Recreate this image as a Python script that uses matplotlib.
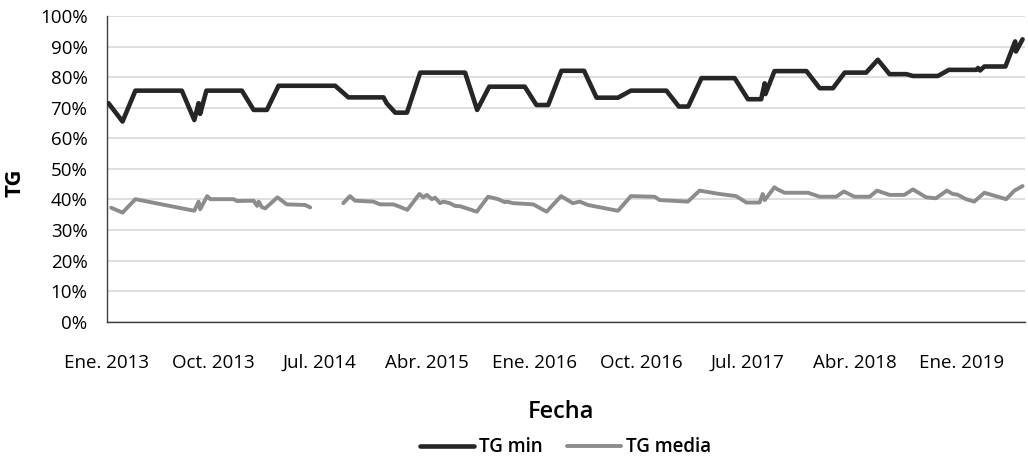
import numpy as np
import matplotlib
matplotlib.use("Agg")
import matplotlib.pyplot as plt

plt.rcParams['font.family'] = ['Open Sans', 'DejaVu Sans']

# TG min series (date, fraction)
min_dates = ['2013-01-05', '2013-02-10', '2013-03-15', '2013-07-12', '2013-08-13',
             '2013-08-24', '2013-08-28', '2013-09-13', '2013-12-13', '2014-01-12',
             '2014-02-15', '2014-03-17', '2014-08-09', '2014-09-12', '2014-12-11',
             '2014-12-19', '2015-01-10', '2015-02-09', '2015-03-15', '2015-07-08',
             '2015-08-08', '2015-09-08', '2015-12-08', '2016-01-07', '2016-02-06',
             '2016-03-11', '2016-05-08', '2016-06-09', '2016-08-03', '2016-09-05',
             '2016-12-05', '2017-01-06', '2017-01-30', '2017-03-05', '2017-05-29',
             '2017-07-02', '2017-08-05', '2017-08-14', '2017-08-16', '2017-09-08',
             '2017-11-29', '2018-01-02', '2018-02-05', '2018-03-07', '2018-05-01',
             '2018-05-31', '2018-06-30', '2018-08-12', '2018-08-29', '2018-11-01',
             '2018-11-29', '2019-02-07', '2019-02-12', '2019-02-17', '2019-02-28',
             '2019-04-23', '2019-05-18', '2019-05-20', '2019-06-06']
min_vals = [0.715, 0.655, 0.756, 0.756, 0.660,
            0.715, 0.680, 0.756, 0.756, 0.693,
            0.693, 0.772, 0.772, 0.734, 0.734,
            0.715, 0.684, 0.684, 0.815, 0.815,
            0.693, 0.769, 0.769, 0.709, 0.709,
            0.821, 0.821, 0.733, 0.733, 0.756,
            0.756, 0.704, 0.704, 0.797, 0.797,
            0.728, 0.728, 0.780, 0.745, 0.820,
            0.820, 0.764, 0.764, 0.815, 0.815,
            0.857, 0.810, 0.810, 0.804, 0.804,
            0.824, 0.824, 0.830, 0.822, 0.835,
            0.835, 0.917, 0.884, 0.924]

# TG media series (NaN marks the gap)
media_dates = ['2013-01-12', '2013-02-10', '2013-03-15', '2013-08-13', '2013-08-24',
               '2013-08-28', '2013-09-15', '2013-09-23', '2013-11-22', '2013-11-30',
               '2014-01-12', '2014-01-21', '2014-01-25', '2014-02-02', '2014-02-11',
               '2014-03-14', '2014-04-07', '2014-05-24', '2014-06-06', '2014-07-15',
               '2014-08-30', '2014-09-16', '2014-09-29', '2014-11-15', '2014-12-02',
               '2015-01-05', '2015-01-22', '2015-02-10', '2015-03-13', '2015-03-23',
               '2015-04-01', '2015-04-14', '2015-04-22', '2015-05-05', '2015-05-13',
               '2015-05-30', '2015-06-12', '2015-06-25', '2015-07-12', '2015-08-07',
               '2015-09-05', '2015-10-01', '2015-10-18', '2015-10-23', '2015-11-08',
               '2015-12-30', '2016-02-02', '2016-03-10', '2016-04-09', '2016-04-27',
               '2016-05-18', '2016-08-03', '2016-09-05', '2016-11-05', '2016-11-18',
               '2017-01-29', '2017-02-28', '2017-04-20', '2017-06-02', '2017-06-28',
               '2017-08-01', '2017-08-09', '2017-08-14', '2017-09-08', '2017-09-16',
               '2017-10-04', '2017-12-03', '2018-01-02', '2018-02-13', '2018-03-05',
               '2018-04-01', '2018-05-10', '2018-05-29', '2018-06-30', '2018-08-07',
               '2018-08-29', '2018-10-02', '2018-10-27', '2018-11-24', '2018-12-09',
               '2018-12-21', '2019-01-12', '2019-02-02', '2019-02-28', '2019-04-25',
               '2019-05-16', '2019-06-06']
media_vals = [0.373, 0.357, 0.401, 0.363, 0.393,
              0.368, 0.411, 0.401, 0.401, 0.395,
              0.396, 0.379, 0.393, 0.375, 0.371,
              0.407, 0.384, 0.382, 0.374, np.nan,
              0.388, 0.411, 0.396, 0.393, 0.384,
              0.384, 0.376, 0.366, 0.418, 0.407,
              0.415, 0.401, 0.406, 0.388, 0.393,
              0.388, 0.379, 0.378, 0.371, 0.360,
              0.409, 0.401, 0.391, 0.393, 0.388,
              0.384, 0.360, 0.411, 0.388, 0.393,
              0.382, 0.363, 0.411, 0.409, 0.398,
              0.393, 0.429, 0.418, 0.411, 0.390,
              0.390, 0.418, 0.398, 0.440, 0.433,
              0.422, 0.422, 0.409, 0.409, 0.426,
              0.409, 0.409, 0.429, 0.415, 0.415,
              0.433, 0.407, 0.404, 0.429, 0.418,
              0.416, 0.401, 0.393, 0.422, 0.401,
              0.429, 0.444]

tick_dates = ['2013-01-01', '2013-10-01', '2014-07-01', '2015-04-01', '2016-01-01',
              '2016-10-01', '2017-07-01', '2018-04-01', '2019-01-01']
tick_labels = ['Ene. 2013', 'Oct. 2013', 'Jul. 2014', 'Abr. 2015', 'Ene. 2016',
               'Oct. 2016', 'Jul. 2017', 'Abr. 2018', 'Ene. 2019']

min_x = np.array(min_dates, dtype='datetime64[D]')
media_x = np.array(media_dates, dtype='datetime64[D]')
ticks_x = np.array(tick_dates, dtype='datetime64[D]')

fig = plt.figure(figsize=(10.28, 4.59), dpi=100)
ax = fig.add_axes([0.104, 0.299, 0.893, 0.666])

ax.plot(min_x, min_vals, color='#262626', lw=3.3, solid_joinstyle='round',
        solid_capstyle='round', label='TG min', zorder=3)
ax.plot(media_x, media_vals, color='#8c8c8c', lw=2.8, solid_joinstyle='round',
        solid_capstyle='round', label='TG media', zorder=3)

ax.set_ylim(0, 1.0)
ax.set_yticks(np.arange(0, 1.01, 0.1))
ax.set_yticklabels([f"{int(round(v * 100))}%" for v in np.arange(0, 1.01, 0.1)])
ax.set_xlim(np.datetime64('2013-01-01'), np.datetime64('2019-06-12'))
ax.set_xticks(ticks_x)
ax.set_xticklabels(tick_labels)

ax.grid(axis='y', color='#d9d9d9', lw=1.2, zorder=0)
ax.set_axisbelow(True)
for s in ['top', 'right']:
    ax.spines[s].set_visible(False)
for s in ['left', 'bottom']:
    ax.spines[s].set_color('#404040')
    ax.spines[s].set_linewidth(1.0)
ax.tick_params(axis='both', length=0, labelsize=13.5, colors='#000000')
ax.tick_params(axis='y', pad=14)
ax.tick_params(axis='x', pad=33)
for lab in ax.get_xticklabels():
    lab.set_verticalalignment('baseline')

fig.text(0.546, 0.102, 'Fecha', ha='center', va='center', fontsize=17,
         fontweight='semibold')
fig.text(0.015, 0.601, 'TG', ha='center', va='center', rotation=90, fontsize=16,
         fontweight='bold')

leg = fig.legend(loc='center', bbox_to_anchor=(0.550, 0.026), ncol=2, frameon=False,
                 fontsize=13.5, handlelength=2.9, columnspacing=1.3, handletextpad=0.25,
                 borderpad=0)
for t in leg.get_texts():
    t.set_fontweight('semibold')

fig.savefig('out.png', dpi=100)
